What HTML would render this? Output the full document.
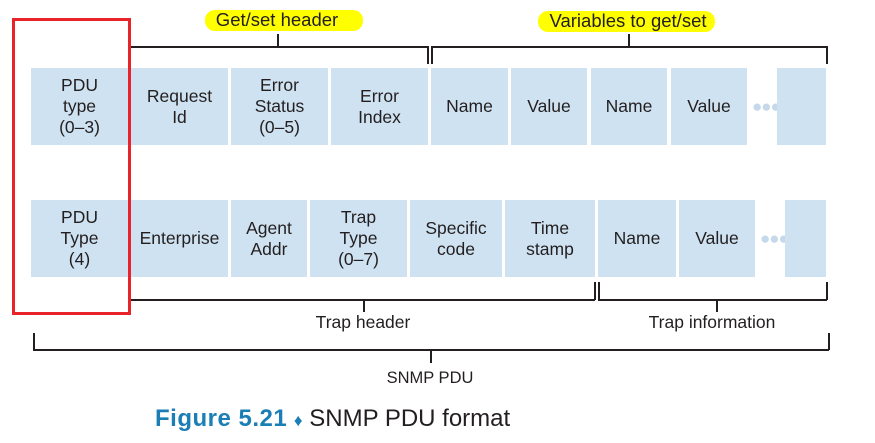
<!DOCTYPE html>
<html><head><meta charset="utf-8"><style>
body{margin:0;width:875px;height:443px;background:#fff;position:relative;overflow:hidden;font-family:"Liberation Sans",sans-serif;color:#231f20}
.b{position:absolute;background:#cfe2f1;display:flex;align-items:center;justify-content:center;text-align:center;font-size:17.5px;line-height:21px}
.l{position:absolute;background:#231f20}
.t{position:absolute;font-size:17.5px;white-space:nowrap;transform:translateX(-50%)}
.hl{position:absolute;background:#ffff00;border-radius:10px}
.d{position:absolute;color:#c5d9ea;font-size:17px;letter-spacing:-1px}
</style></head><body>
<div class="hl" style="left:205px;top:10px;width:158px;height:21px"></div>
<div class="hl" style="left:538px;top:11px;width:177px;height:21px"></div>
<div class="t" style="left:277px;top:9px;font-size:18.5px">Get/set header</div>
<div class="t" style="left:628px;top:10px;font-size:18.5px">Variables to get/set</div>
<div class="l" style="left:128px;top:46px;width:300px;height:1.5px"></div>
<div class="l" style="left:427px;top:46px;width:1.5px;height:18px"></div>
<div class="l" style="left:277px;top:34px;width:1.5px;height:12px"></div>
<div class="l" style="left:431px;top:46px;width:396px;height:1.5px"></div>
<div class="l" style="left:431px;top:46px;width:1.5px;height:18px"></div>
<div class="l" style="left:826px;top:46px;width:1.5px;height:18px"></div>
<div class="l" style="left:628px;top:34px;width:1.5px;height:12px"></div>
<div class="b" style="left:31px;top:68px;width:97px;height:77px">PDU<br>type<br>(0–3)</div>
<div class="b" style="left:131px;top:68px;width:97px;height:77px">Request<br>Id</div>
<div class="b" style="left:231px;top:68px;width:97px;height:77px">Error<br>Status<br>(0–5)</div>
<div class="b" style="left:331px;top:68px;width:97px;height:77px">Error<br>Index</div>
<div class="b" style="left:431px;top:68px;width:77px;height:77px">Name</div>
<div class="b" style="left:511px;top:68px;width:76px;height:77px">Value</div>
<div class="b" style="left:591px;top:68px;width:76px;height:77px">Name</div>
<div class="b" style="left:671px;top:68px;width:76px;height:77px">Value</div>
<div class="d" style="left:752px;top:97px">●●●</div>
<div class="b" style="left:777px;top:68px;width:49px;height:77px"></div>
<div class="b" style="left:31px;top:200px;width:97px;height:77px">PDU<br>Type<br>(4)</div>
<div class="b" style="left:131px;top:200px;width:97px;height:77px">Enterprise</div>
<div class="b" style="left:231px;top:200px;width:76px;height:77px">Agent<br>Addr</div>
<div class="b" style="left:310px;top:200px;width:97px;height:77px">Trap<br>Type<br>(0–7)</div>
<div class="b" style="left:410px;top:200px;width:92px;height:77px">Specific<br>code</div>
<div class="b" style="left:505px;top:200px;width:90px;height:77px">Time<br>stamp</div>
<div class="b" style="left:598px;top:200px;width:78px;height:77px">Name</div>
<div class="b" style="left:679px;top:200px;width:76px;height:77px">Value</div>
<div class="d" style="left:760px;top:229px">●●●</div>
<div class="b" style="left:785px;top:200px;width:41px;height:77px"></div>
<div class="l" style="left:128px;top:299px;width:467px;height:1.5px"></div>
<div class="l" style="left:594px;top:282px;width:1.5px;height:18px"></div>
<div class="l" style="left:363px;top:299px;width:1.5px;height:13px"></div>
<div class="l" style="left:598px;top:299px;width:229px;height:1.5px"></div>
<div class="l" style="left:598px;top:282px;width:1.5px;height:18px"></div>
<div class="l" style="left:826px;top:282px;width:1.5px;height:18px"></div>
<div class="l" style="left:716px;top:299px;width:1.5px;height:13px"></div>
<div class="t" style="left:363px;top:312px">Trap header</div>
<div class="t" style="left:712px;top:312px">Trap information</div>
<div class="l" style="left:33px;top:349px;width:796px;height:1.5px"></div>
<div class="l" style="left:33px;top:333px;width:1.5px;height:17px"></div>
<div class="l" style="left:828px;top:333px;width:1.5px;height:17px"></div>
<div class="l" style="left:430px;top:349px;width:1.5px;height:14px"></div>
<div class="t" style="left:430px;top:369px;font-size:16.5px">SNMP PDU</div>
<div style="position:absolute;left:155px;top:405px;font-size:24px;white-space:nowrap"><b style="color:#1b7fb5;letter-spacing:0.5px">Figure 5.21</b>&nbsp;<span style="color:#1b7fb5;font-size:17px">♦</span>&nbsp;SNMP PDU format</div>
<div style="position:absolute;left:12px;top:18px;width:113px;height:291px;border:3px solid #e8232a"></div>
</body></html>
